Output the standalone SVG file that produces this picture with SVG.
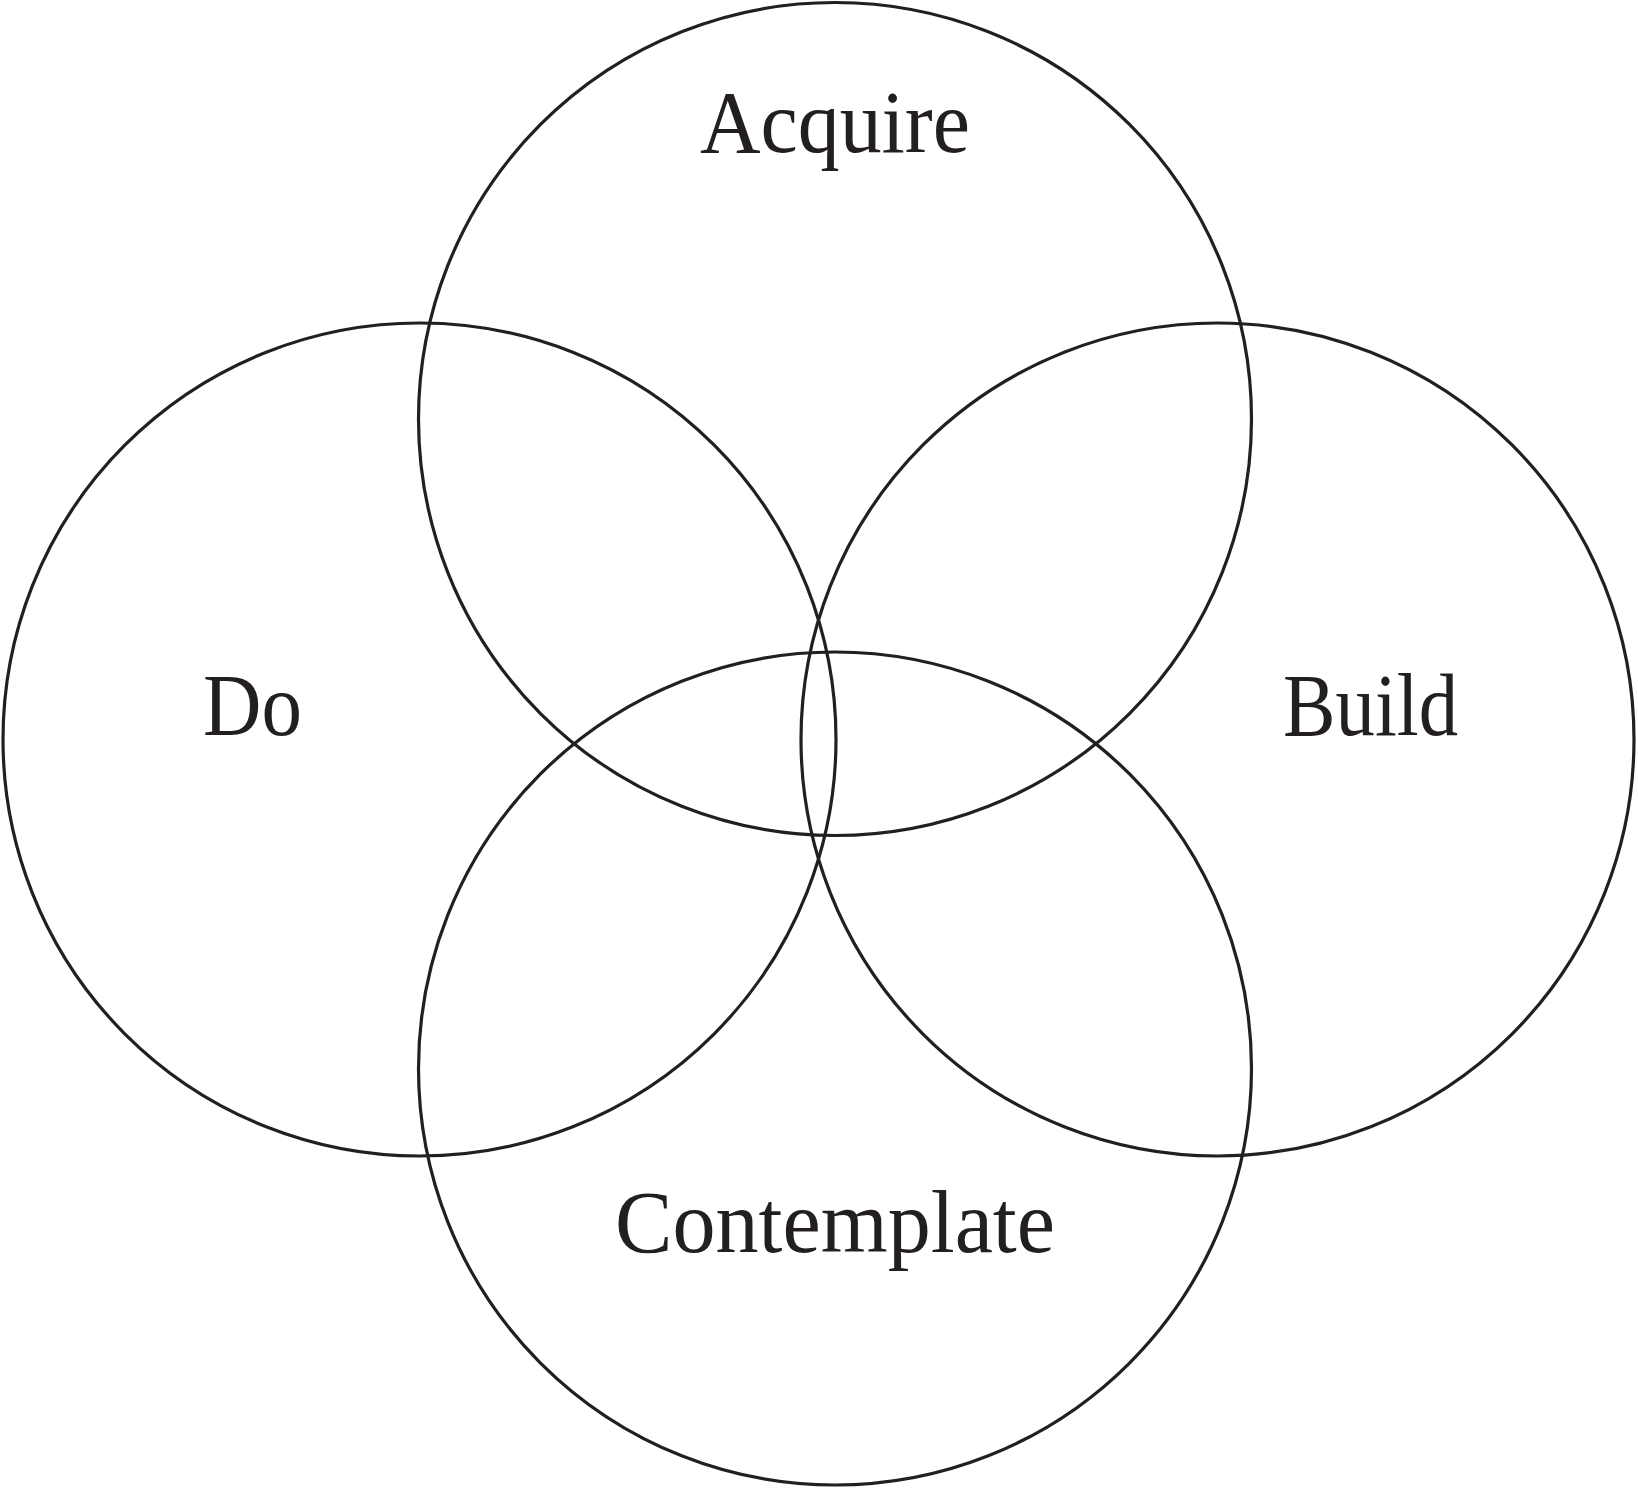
<svg xmlns="http://www.w3.org/2000/svg" width="1638" height="1488" viewBox="0 0 1638 1488">
<style>
.c{fill:none;stroke:#231f20;stroke-width:3.2}
.t{font-family:"Liberation Serif","Times New Roman",serif;font-size:88px;fill:#231f20}
</style>
<rect width="1638" height="1488" fill="#fff"/>
<g id="acquire"><circle class="c" cx="835" cy="419" r="416.5"/><text class="t" x="700" y="152" textLength="270" lengthAdjust="spacingAndGlyphs">Acquire</text></g>
<g id="do"><circle class="c" cx="419.5" cy="739.5" r="416.5"/><text class="t" x="203" y="735" textLength="99" lengthAdjust="spacingAndGlyphs">Do</text></g>
<g id="build"><circle class="c" cx="1217.5" cy="739.5" r="416.5"/><text class="t" x="1283" y="735" textLength="175" lengthAdjust="spacingAndGlyphs">Build</text></g>
<g id="contemplate"><circle class="c" cx="835" cy="1068.5" r="416.5"/><text class="t" x="615" y="1252" textLength="440" lengthAdjust="spacingAndGlyphs">Contemplate</text></g>
<g id="connectors"/>
</svg>
